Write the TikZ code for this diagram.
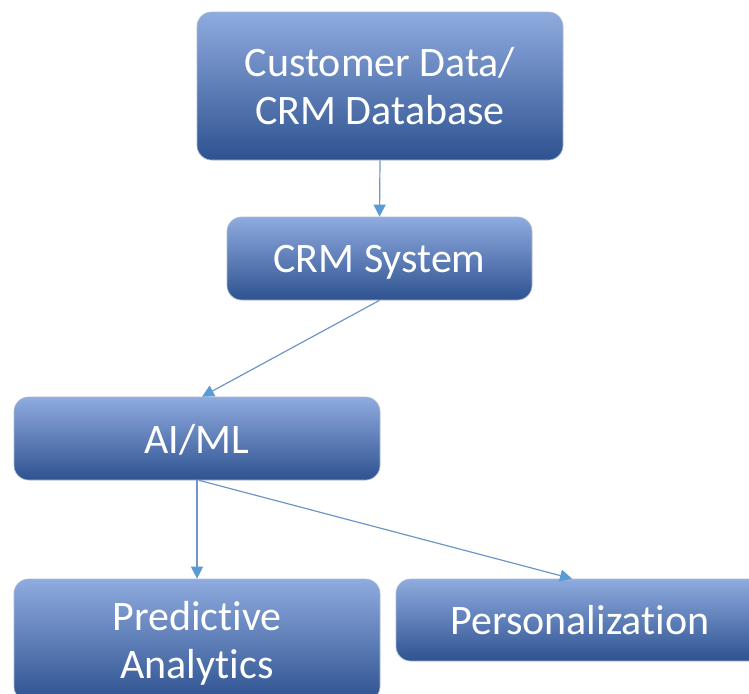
\documentclass[tikz,border=0pt]{standalone}
\usepackage{fontspec}
\setmainfont{Carlito}[Ligatures=NoCommon]
\usetikzlibrary{arrows.meta,calc}
\definecolor{boxtop}{HTML}{8FABDF}
\definecolor{boxmid}{HTML}{4671C4}
\definecolor{boxbot}{HTML}{2E5290}
\definecolor{boxedge}{HTML}{A9B8D2}
\definecolor{linkline}{HTML}{6E95C8}
\definecolor{linktip}{HTML}{5B9BD5}
\tikzset{
  flowbox/.style={rectangle, rounded corners=11pt, draw=boxedge, line width=0.5pt,
    top color=boxtop, middle color=boxmid, bottom color=boxbot,
    text=white, align=center, inner sep=0pt, text depth=0pt,
    font=\fontsize{31.5}{36}\selectfont},
  link/.style={draw=linkline, line width=0.9pt,
    -{Triangle[length=9pt,width=9pt,fill=linktip,color=linktip]}}
}
\begin{document}
\begin{tikzpicture}[x=0.75pt,y=-0.75pt]
  \useasboundingbox (0,0) rectangle (749,693);
  \clip (0,0) rectangle (749,693);
  % boxes
  \node[flowbox, minimum width=274.5pt, minimum height=111pt] (db) at (380,86)
    {Customer Data/\\CRM Database};
  \node[flowbox, minimum width=228.75pt, minimum height=62.25pt] (crm) at (379.5,258.5)
    {CRM System};
  \node[flowbox, minimum width=274.5pt, minimum height=62.25pt] (ai) at (197,438.5)
    {AI/ML};
  \node[flowbox, minimum width=274.5pt, minimum height=91.5pt] (pred) at (197,640)
    {Predictive\\Analytics};
  \node[flowbox, minimum width=276pt, minimum height=61.5pt] (pers) at (580,620)
    {Personalization};
  % connectors
  \draw[link] (db.south) -- (crm.north);
  \draw[link] (crm.south) -- ($(ai.north)+(5,0)$);
  \draw[link] (ai.south) -- (pred.north);
  \draw[link] ($(ai.south)+(2,0)$) -- ($(pers.north)+(-8,0)$);
\end{tikzpicture}
\end{document}
